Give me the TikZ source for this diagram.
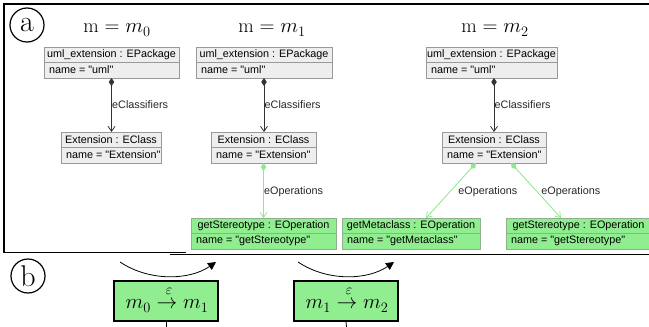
\documentclass[tikz,border=0pt]{standalone}
\usepackage{fontspec}
\newfontfamily\umlfamily{Liberation Sans}
\usetikzlibrary{arrows.meta,calc}
\definecolor{boxfill}{HTML}{EEEEEE}
\definecolor{boxline}{HTML}{999999}
\definecolor{opfill}{HTML}{90EE90}
\definecolor{opline}{HTML}{8FB08F}
\definecolor{oparrow}{HTML}{90E890}
\newcommand\umlobj[8]{%
  \node[umlhead,minimum width=#4pt,#8] (#1) at (#2,#3) {#6};
  \node[umlattr,#8] (#1a) at (#1.south west) {\makebox[#5pt][l]{#7}};
}
\begin{document}
\begin{tikzpicture}[x=1pt,y=-1pt,
  umlhead/.style={draw=boxline, fill=boxfill, line width=0.9pt, outer sep=0pt,
    inner xsep=1pt, inner ysep=0pt, minimum height=15pt, anchor=north west,
    font=\umlfamily\fontsize{10.8}{12}\selectfont},
  umlattr/.style={umlhead, minimum height=16pt, inner xsep=5pt},
  opbox/.style={fill=opfill, draw=opline},
  lbl/.style={font=\umlfamily\fontsize{10.8}{12}\selectfont, inner sep=0pt, anchor=west, text=black!85},
  comp/.style={draw=black!80, line width=0.8pt,
    {Diamond[length=8pt,width=5.5pt]}-{Straight Barb[length=5pt,width=7pt]}},
  opcomp/.style={comp, draw=oparrow, fill=oparrow},
  ttl/.style={inner sep=0pt, font=\fontsize{20}{24}\selectfont},
  circ/.style={circle, draw, line width=1.2pt, minimum size=34pt, inner sep=0pt,
    font=\fontsize{30}{32}\selectfont},
  trans/.style={draw=black, fill=opfill, line width=1.4pt, minimum width=104pt,
    minimum height=40pt, inner sep=0pt},
  transtxt/.style={inner sep=0pt, font=\fontsize{20}{24}\selectfont},
  epstxt/.style={inner sep=0pt, font=\fontsize{14}{16}\selectfont},
  curv/.style={line width=0.8pt, -{Triangle[length=8pt,width=8pt]}},
  frm/.style={line width=1.4pt}
]
\useasboundingbox (0,0) rectangle (649,327);
\clip (0,0) rectangle (649,327);

% frame
\draw[frm] (186,252.5) -- (4,252.5) -- (4,4) -- (660,4);
\draw[frm] (170,254.5) -- (660,254.5);

% labels a, b
\node[circ] (ca) at (27,25) {a};
\node[circ] (cb) at (28,276) {b};

% titles
\node[ttl] (t0) at (117,30) {$\mathrm{m}=m_0$};
\node[ttl] (t1) at (272,30) {$\mathrm{m}=m_1$};
\node[ttl] (t2) at (495,30) {$\mathrm{m}=m_2$};

% column 0
\umlobj{P0}{44}{47}{135}{125}{uml\_extension : EPackage}{name = "uml"}{}
\umlobj{E0}{61}{132}{100}{90}{Extension : EClass}{name = "Extension"}{}
% column 1
\umlobj{P1}{196}{47}{136}{126}{uml\_extension : EPackage}{name = "uml"}{}
\umlobj{E1}{211}{132}{105}{95}{Extension : EClass}{name = "Extension"}{}
\umlobj{G1}{191}{218}{145}{135}{getStereotype : EOperation}{name = "getStereotype"}{opbox}
% column 2
\umlobj{P2}{426}{47}{131}{121}{uml\_extension : EPackage}{name = "uml"}{}
\umlobj{E2}{442}{132}{104}{94}{Extension : EClass}{name = "Extension"}{}
\umlobj{M2}{342}{218}{138}{128}{getMetaclass : EOperation}{name = "getMetaclass"}{opbox}
\umlobj{S2}{506}{218}{145}{135}{getStereotype : EOperation}{name = "getStereotype"}{opbox}

% connectors
\draw[comp] (P0a.south) -- (P0a.south |- E0.north) node[lbl, midway, xshift=0.3pt] {eClassifiers};
\draw[comp] (P1a.south) -- (P1a.south |- E1.north) node[lbl, midway, xshift=0.3pt] {eClassifiers};
\draw[comp] (E2a.south |- P2a.south) -- (E2.north) node[lbl, midway, xshift=0.3pt] {eClassifiers};
\draw[opcomp] (E1a.south) -- (G1.north) node[lbl, midway, xshift=0.3pt, yshift=-1.5pt] {eOperations};
\coordinate (s1) at ($(E2a.south)+(-18,0)$);
\coordinate (e1) at ($(M2.north)+(15,0)$);
\coordinate (s2) at ($(E2a.south)+(17,0)$);
\coordinate (e2) at ($(S2.north)+(-17.5,0)$);
\draw[opcomp] (s1) -- (e1) node[lbl, midway, xshift=7pt, yshift=-1.5pt] {eOperations};
\draw[opcomp] (s2) -- (e2) node[lbl, midway, xshift=5pt, yshift=-1.5pt] {eOperations};

% part b
\node[trans] (b1) at (166,301) {};
\node[trans] (b2) at (346,301) {};
\node[transtxt] (b1t) at (167,306) {$m_0\rightarrow m_1$};
\node[transtxt] (b2t) at (347,306) {$m_1\rightarrow m_2$};
\node[epstxt] (b1e) at (169,291) {$\varepsilon$};
\node[epstxt] (b2e) at (349,291) {$\varepsilon$};
\coordinate (b1x) at (166,332);
\coordinate (b2x) at (347,332);
\draw[line width=0.8pt] (b1.south) -- (b1x);
\draw[line width=0.8pt] (b2.south) -- (b2x);
\coordinate (c1s) at (120,262);
\coordinate (c1e) at (216,262);
\coordinate (c2s) at (298,262);
\coordinate (c2e) at (394,262);
\draw[curv] (c1s) .. controls (150,282) and (190,280) .. (c1e);
\draw[curv] (c2s) .. controls (328,282) and (368,280) .. (c2e);
\end{tikzpicture}
\end{document}
